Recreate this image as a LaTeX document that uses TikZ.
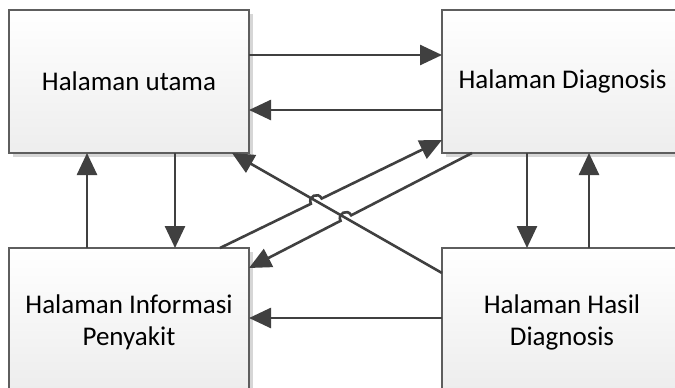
\documentclass[tikz,border=0pt]{standalone}
\usepackage{fontspec}
\setmainfont{Carlito}
\usetikzlibrary{arrows.meta,calc}
\definecolor{linec}{HTML}{404040}
\definecolor{boxline}{HTML}{5E5E5E}
\definecolor{shadowc}{HTML}{D6D6D6}
\begin{document}
\begin{tikzpicture}[x=1pt,y=-1pt,
  pagetext/.style={align=center, inner sep=0pt, font=\fontsize{27}{32}\selectfont},
  pagefill/.style={draw=none, top color=white, bottom color=black!7,
    anchor=north west, inner sep=0pt, outer sep=0pt},
  pageedge/.style={draw=boxline, line width=1.3pt},
  pageshadow/.style={fill=shadowc, draw=none, anchor=north west, inner sep=0pt, outer sep=0pt},
  link/.style={draw=linec, line width=2.6pt, -{Triangle[length=22pt,width=20pt]}}
]
\useasboundingbox (0,0) rectangle (675,388);
\fill[white] (0,0) rectangle (675,388);

% shadows behind the page boxes
\node[pageshadow, minimum width=240pt, minimum height=143pt] (us) at (13,14) {};
\node[pageshadow, minimum width=229pt, minimum height=143pt] (ds) at (446,14) {};
\node[pageshadow, minimum width=240pt, minimum height=136pt] (is) at (13,252) {};
\node[pageshadow, minimum width=229pt, minimum height=136pt] (hs) at (446,252) {};

% the four pages (the right and lower ones run past the sheet edge)
\node[pagefill, minimum width=240pt, minimum height=143pt] (u) at (9,10) {};
\node[pagefill, minimum width=233pt, minimum height=143pt] (d) at (442,10) {};
\node[pagefill, minimum width=240pt, minimum height=140pt] (i) at (9,248) {};
\node[pagefill, minimum width=233pt, minimum height=140pt] (h) at (442,248) {};
\draw[pageedge] (u.north west) rectangle (u.south east);
\draw[pageedge] (d.north east) -- (d.north west) -- (d.south west) -- (d.south east);
\draw[pageedge] (i.south west) -- (i.north west) -- (i.north east) -- (i.south east);
\draw[pageedge] (h.north east) -- (h.north west) -- (h.south west);

% page titles
\node[pagetext] (ut) at (129,81.5) {Halaman utama};
\node[pagetext] (dt) at (562.5,81.5) {Halaman Diagnosis};
\node[pagetext] (it) at (129,322) {Halaman Informasi\\Penyakit};
\node[pagetext] (ht) at (562,322) {Halaman Hasil\\Diagnosis};

% horizontal links
\draw[link] ($(u.north east)+(0,45)$) -- ($(d.north west)+(0,45)$);
\draw[link] ($(d.north west)+(0,100)$) -- ($(u.north east)+(0,100)$);
\draw[link] ($(h.north west)+(0,70)$) -- ($(i.north east)+(0,70)$);

% vertical links
\draw[link] ($(i.north west)+(78,0)$) -- ($(u.south west)+(78,0)$);
\draw[link] ($(u.south west)+(166,0)$) -- ($(i.north west)+(166,0)$);
\draw[link] ($(d.south west)+(85,0)$) -- ($(h.north west)+(85,0)$);
\draw[link] ($(h.north west)+(147,0)$) -- ($(d.south west)+(147,0)$);

% diagonal link ends
\coordinate (as) at ($(h.north west)+(0,25)$);
\coordinate (ae) at ($(u.south east)+(-17,0)$);
\coordinate (bs) at ($(i.north west)+(211,0)$);
\coordinate (be) at ($(d.south west)+(0,-13)$);
\coordinate (cs) at ($(d.south west)+(30,0)$);
\coordinate (ce) at ($(i.north east)+(0,20)$);

% crossings and hop points
\coordinate (xb) at (intersection of bs--be and as--ae);
\coordinate (xc) at (intersection of cs--ce and as--ae);
\coordinate (hb1) at ($(xb)!6pt!(bs)$);
\coordinate (hb2) at ($(xb)!6pt!(be)$);
\coordinate (hc1) at ($(xc)!6pt!(cs)$);
\coordinate (hc2) at ($(xc)!6pt!(ce)$);

% diagonal links, the two rising ones hop over the falling one
\draw[link] (as) -- (ae);
\draw[link] (bs) -- (hb1)
  .. controls ($(hb1)!8pt!90:(xb)$) and ($(hb2)!8pt!-90:(xb)$) .. (hb2) -- (be);
\draw[link] (cs) -- (hc1)
  .. controls ($(hc1)!8pt!-90:(xc)$) and ($(hc2)!8pt!90:(xc)$) .. (hc2) -- (ce);
\end{tikzpicture}
\end{document}
